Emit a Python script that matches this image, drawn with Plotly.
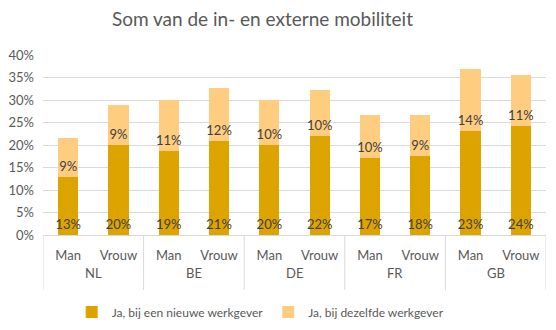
import plotly.graph_objects as go

countries = ["NL", "NL", "BE", "BE", "DE", "DE", "FR", "FR", "GB", "GB"]
genders = ["Man", "Vrouw"] * 5
nieuwe = [13.0, 19.9, 18.6, 21.0, 19.9, 22.1, 17.1, 17.6, 23.1, 24.2]
dezelfde = [8.6, 9.0, 11.3, 11.7, 10.1, 10.1, 9.6, 9.0, 13.7, 11.4]
y_ticks = [0, 5, 10, 15, 20, 25, 30, 35, 40]
y_tick_text = ["0%", "5%", "10%", "15%", "20%", "25%", "30%", "35%", "40%"]

FONT = "Lato, Carlito, Calibri, sans-serif"
TXT = "#595959"
GRID = "#d9d9d9"

ids = [f"{c} {g}" for c, g in zip(countries, genders)]

fig = go.Figure()
for name, vals, color in [
    ("Ja, bij een nieuwe werkgever", nieuwe, "#DDA400"),
    ("Ja, bij dezelfde werkgever", dezelfde, "#FFCD80"),
]:
    fig.add_trace(go.Bar(
        x=ids, y=vals, name=name,
        marker=dict(color=color, line=dict(width=0)),
        texttemplate="%{y:.0f}%", textposition="inside",
        insidetextanchor="start", textangle=0, constraintext="none",
        insidetextfont=dict(family=FONT, size=13, color="#404040"),
        hoverinfo="skip",
    ))

# group labels and dividers derived from the category order
groups = []
for i, c in enumerate(countries):
    if not groups or groups[-1][0] != c:
        groups.append([c, i, i])
    else:
        groups[-1][2] = i

div_y = -55 / 180
for c, i0, i1 in groups:
    fig.add_annotation(x=(i0 + i1) / 2, xref="x", y=-38 / 180, yref="paper",
                       text=c, showarrow=False, yanchor="middle",
                       font=dict(size=13, color=TXT, family=FONT))
    fig.add_shape(type="line", xref="x", yref="paper", x0=i0 - 0.5, x1=i0 - 0.5,
                  y0=0, y1=div_y, line=dict(color=GRID, width=1))
fig.add_shape(type="line", xref="x", yref="paper", x0=len(ids) - 0.5, x1=len(ids) - 0.5,
              y0=0, y1=div_y, line=dict(color=GRID, width=1))

fig.update_layout(
    barmode="stack", bargap=0.6,
    width=556, height=330,
    margin=dict(l=43, r=10, t=55, b=95, autoexpand=False),
    paper_bgcolor="white", plot_bgcolor="white",
    font=dict(family=FONT, size=13, color=TXT),
    title=dict(text="Som van de in- en externe mobiliteit", x=0.472, xanchor="center",
               y=1 - 19 / 330, yanchor="middle", yref="container",
               font=dict(size=19, color=TXT, family=FONT)),
    legend=dict(orientation="h", xref="container", x=0.468, xanchor="center",
                yref="container", y=1 - 312 / 330, yanchor="middle",
                font=dict(size=12, color=TXT), traceorder="normal",
                itemwidth=30),
    showlegend=True,
)
fig.update_yaxes(range=[0, 40], tickvals=y_ticks, ticktext=y_tick_text,
                 showgrid=True, gridcolor=GRID, gridwidth=1,
                 zeroline=False, showline=False, ticks="", automargin=False,
                 tickfont=dict(size=13, color=TXT), ticklabelstandoff=8)
fig.update_xaxes(type="category", tickvals=ids, ticktext=genders,
                 range=[-0.5, len(ids) - 0.5],
                 showline=True, linecolor=GRID, showgrid=False,
                 ticks="", automargin=False, ticklabelstandoff=8,
                 tickfont=dict(size=13, color=TXT))

fig.write_html("out.html")
